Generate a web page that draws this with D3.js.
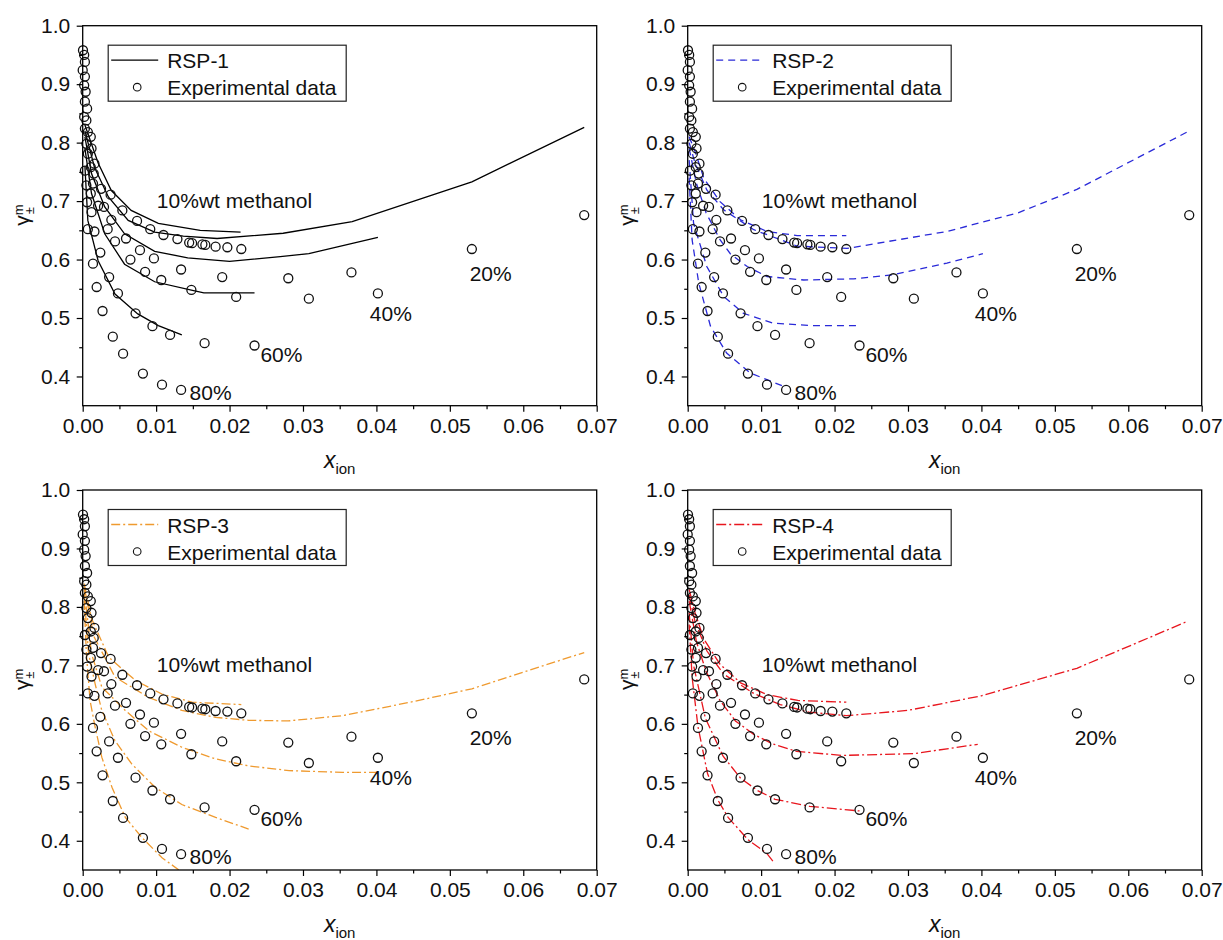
<!DOCTYPE html>
<html>
<head>
<meta charset="utf-8">
<script src="https://cdn.jsdelivr.net/npm/d3@7"></script>
<style>
  body { margin: 0; background: #fff; }
  svg { font-family: "Liberation Sans", Arial, sans-serif; }
</style>
</head>
<body>
<svg width="1223" height="940"></svg>
<script>
// ticks
const xTicks = [0, 0.01, 0.02, 0.03, 0.04, 0.05, 0.06, 0.07];
const xMinor = [0.005, 0.015, 0.025, 0.035, 0.045, 0.055, 0.065];
const yTicks = [0.4, 0.5, 0.6, 0.7, 0.8, 0.9, 1.0];
const yMinor = [0.45, 0.55, 0.65, 0.75, 0.85, 0.95];

// experimental data (x_ion, gamma) - same in all panels
const exp10 = [[0.00004,0.958],[0.0003,0.913],[0.0006,0.858],[0.0011,0.810],[0.0016,0.764],[0.0025,0.721],[0.0038,0.711],[0.0054,0.684],[0.0074,0.666],[0.0092,0.652],[0.0110,0.642],[0.0129,0.635],[0.0145,0.629],[0.0149,0.628],[0.0163,0.626],[0.0167,0.625],[0.0181,0.622],[0.0197,0.621],[0.0216,0.618]];
const exp20 = [[0.0002,0.950],[0.0004,0.887],[0.0007,0.818],[0.0012,0.790],[0.0015,0.747],[0.0029,0.690],[0.0039,0.668],[0.0059,0.636],[0.0078,0.616],[0.0097,0.602],[0.0134,0.583],[0.0190,0.570],[0.0280,0.568],[0.0366,0.578],[0.0530,0.618],[0.0683,0.676]];
const exp40 = [[0.0003,0.938],[0.0003,0.870],[0.0005,0.838],[0.0007,0.781],[0.0011,0.758],[0.0014,0.730],[0.0021,0.692],[0.0034,0.652],[0.0044,0.631],[0.0065,0.600],[0.0085,0.579],[0.0107,0.565],[0.0148,0.548],[0.0209,0.536],[0.0308,0.533],[0.0402,0.542]];
const exp60 = [[0.0000,0.924],[0.0002,0.898],[0.0002,0.844],[0.0005,0.798],[0.0011,0.713],[0.0012,0.681],[0.0016,0.648],[0.0024,0.612],[0.0036,0.570],[0.0048,0.542],[0.0072,0.508],[0.0095,0.486],[0.0119,0.471],[0.0166,0.457],[0.0234,0.453]];
const exp80 = [[0.0003,0.824],[0.0003,0.752],[0.0005,0.727],[0.0006,0.698],[0.0007,0.652],[0.0014,0.593],[0.0019,0.553],[0.0027,0.512],[0.0041,0.468],[0.0055,0.439],[0.0082,0.405],[0.0108,0.386],[0.0134,0.377]];

// RSP-1 model
const rsp1_10 = [[0.0003,0.83],[0.0021,0.765],[0.0039,0.718],[0.0066,0.684],[0.0103,0.662],[0.016,0.650],[0.0215,0.647]];
const rsp1_20 = [[0.0003,0.82],[0.0016,0.758],[0.0035,0.707],[0.0062,0.667],[0.0098,0.647],[0.0137,0.640],[0.0183,0.636],[0.0273,0.645],[0.0367,0.665],[0.0530,0.733],[0.0683,0.826]];
const rsp1_40 = [[0.0003,0.81],[0.0012,0.747],[0.003,0.690],[0.0057,0.644],[0.0098,0.614],[0.0143,0.603],[0.020,0.597],[0.0269,0.605],[0.0308,0.610],[0.0402,0.638]];
const rsp1_60 = [[0.0003,0.79],[0.0012,0.713],[0.003,0.644],[0.0057,0.592],[0.0098,0.562],[0.0151,0.547],[0.0165,0.543],[0.0234,0.543]];
const rsp1_80 = [[0.0003,0.76],[0.0007,0.667],[0.0021,0.598],[0.0044,0.541],[0.0075,0.507],[0.0103,0.487],[0.0135,0.471]];

// RSP-2 model
const rsp2_10 = [[0.0002,0.81],[0.001,0.785],[0.0022,0.739],[0.0044,0.699],[0.0072,0.668],[0.0108,0.648],[0.0149,0.641],[0.0216,0.641]];
const rsp2_20 = [[0.0002,0.80],[0.001,0.765],[0.0026,0.719],[0.0049,0.685],[0.009,0.651],[0.0126,0.634],[0.0149,0.623],[0.0217,0.619],[0.0353,0.648],[0.045,0.680],[0.053,0.720],[0.0683,0.820]];
const rsp2_40 = [[0.0002,0.79],[0.0012,0.73],[0.0025,0.68],[0.0044,0.634],[0.0058,0.61],[0.0081,0.588],[0.0108,0.571],[0.0158,0.565],[0.0226,0.567],[0.028,0.574],[0.0353,0.594],[0.0402,0.61]];
const rsp2_60 = [[0.0002,0.77],[0.0008,0.662],[0.0026,0.588],[0.0049,0.537],[0.0076,0.508],[0.0117,0.491],[0.0171,0.487],[0.0233,0.487]];
const rsp2_80 = [[0.0002,0.74],[0.0006,0.634],[0.0015,0.560],[0.0031,0.486],[0.0053,0.440],[0.0085,0.406],[0.0133,0.382]];

// RSP-3 model
const rsp3_10 = [[0.0002,0.84],[0.0012,0.78],[0.00355,0.714],[0.0072,0.674],[0.0108,0.651],[0.0149,0.637],[0.0216,0.633]];
const rsp3_20 = [[0.0002,0.835],[0.0015,0.75],[0.0044,0.68],[0.009,0.645],[0.0135,0.623],[0.0181,0.611],[0.0226,0.606],[0.028,0.605],[0.0354,0.614],[0.045,0.638],[0.053,0.66],[0.0683,0.722]];
const rsp3_40 = [[0.0002,0.83],[0.0012,0.72],[0.0026,0.663],[0.0058,0.623],[0.009,0.588],[0.0135,0.560],[0.0181,0.540],[0.0226,0.528],[0.0281,0.520],[0.0354,0.517],[0.040,0.517]];
const rsp3_60 = [[0.0002,0.82],[0.0008,0.72],[0.0017,0.668],[0.0026,0.623],[0.0044,0.571],[0.0067,0.531],[0.0099,0.491],[0.0135,0.462],[0.0181,0.440],[0.0226,0.420]];
const rsp3_80 = [[0.0002,0.81],[0.0005,0.72],[0.001,0.640],[0.0017,0.594],[0.0026,0.543],[0.004,0.491],[0.0058,0.440],[0.0081,0.405],[0.0108,0.371],[0.0131,0.350]];

// RSP-4 model
const rsp4_10 = [[0.0002,0.83],[0.001,0.79],[0.0022,0.745],[0.0044,0.702],[0.0072,0.67],[0.0108,0.65],[0.015,0.64],[0.0216,0.637]];
const rsp4_20 = [[0.0002,0.82],[0.001,0.775],[0.0026,0.725],[0.0049,0.685],[0.009,0.652],[0.0126,0.633],[0.0165,0.62],[0.0216,0.614],[0.03,0.623],[0.04,0.648],[0.053,0.695],[0.068,0.775]];
const rsp4_40 = [[0.0002,0.81],[0.0012,0.74],[0.0025,0.69],[0.0044,0.64],[0.0065,0.605],[0.009,0.582],[0.0115,0.566],[0.0148,0.553],[0.021,0.546],[0.0308,0.549],[0.0395,0.565]];
const rsp4_60 = [[0.0002,0.79],[0.0008,0.70],[0.0024,0.61],[0.0048,0.545],[0.0072,0.507],[0.0095,0.486],[0.0119,0.471],[0.0166,0.459],[0.0234,0.451]];
const rsp4_80 = [[0.0002,0.77],[0.0006,0.68],[0.0014,0.595],[0.0027,0.515],[0.0041,0.47],[0.0055,0.44],[0.0082,0.402],[0.0108,0.378],[0.0118,0.362]];

// annotation labels
const pctLabels = ["20%", "40%", "60%", "80%"];
const pctX = [0.0527, 0.0391, 0.0242, 0.01455];
const pctY = [0.563, 0.495, 0.4255, 0.3595];

const svg = d3.select("svg");
const W = 514, H = 380;

const panels = [
  { name: "RSP-1", left: 82.7, top: 25.7, color: "#000", dash: null, curves: [rsp1_10, rsp1_20, rsp1_40, rsp1_60, rsp1_80] },
  { name: "RSP-2", left: 687.7, top: 25.7, color: "#2a2ad8", dash: "7,5", curves: [rsp2_10, rsp2_20, rsp2_40, rsp2_60, rsp2_80] },
  { name: "RSP-3", left: 82.7, top: 490, color: "#ef9a2f", dash: "9,3,2,3", curves: [rsp3_10, rsp3_20, rsp3_40, rsp3_60, rsp3_80] },
  { name: "RSP-4", left: 687.7, top: 490, color: "#e8161e", dash: "10,3,2,3", curves: [rsp4_10, rsp4_20, rsp4_40, rsp4_60, rsp4_80] }
];
const expAll = [exp10, exp20, exp40, exp60, exp80];

panels.forEach((p, i) => {
  const g = svg.append("g").attr("transform", `translate(${p.left},${p.top})`);
  const x = d3.scaleLinear().domain([0, 0.07]).range([0, W]);
  const y = d3.scaleLinear().domain([0.35, 1.0]).range([H, 0]);

  g.append("clipPath").attr("id", "clip" + i)
    .append("rect").attr("width", W).attr("height", H);

  // model curves
  const line = d3.line().x(d => x(d[0])).y(d => y(d[1]));
  g.append("g").attr("clip-path", `url(#clip${i})`)
    .selectAll("path").data(p.curves).enter().append("path")
    .attr("d", line)
    .attr("fill", "none")
    .attr("stroke", p.color)
    .attr("stroke-width", 1.3)
    .attr("stroke-dasharray", p.dash);

  // experimental points
  g.append("g").selectAll("circle")
    .data(expAll.flat()).enter().append("circle")
    .attr("cx", d => x(d[0]))
    .attr("cy", d => y(d[1]))
    .attr("r", 4.5)
    .attr("fill", "none")
    .attr("stroke", "#111")
    .attr("stroke-width", 1.3);

  // axes
  const xAxis = g.append("g").attr("transform", `translate(0,${H})`)
    .call(d3.axisBottom(x).tickValues(xTicks).tickFormat(d3.format(".2f")).tickSize(6).tickSizeOuter(0));
  g.append("g").attr("transform", `translate(0,${H})`)
    .call(d3.axisBottom(x).tickValues(xMinor).tickFormat("").tickSize(3.5).tickSizeOuter(0));
  const yAxis = g.append("g")
    .call(d3.axisLeft(y).tickValues(yTicks).tickFormat(d3.format(".1f")).tickSize(6).tickSizeOuter(0));
  g.append("g")
    .call(d3.axisLeft(y).tickValues(yMinor).tickFormat("").tickSize(3.5).tickSizeOuter(0));
  g.selectAll(".domain").remove();
  g.selectAll(".tick line").attr("stroke", "#000").attr("stroke-width", 1.2);
  xAxis.selectAll("text").attr("font-size", 21).attr("fill", "#111").attr("dy", "0.71em").attr("y", 12);
  yAxis.selectAll("text").attr("font-size", 21).attr("fill", "#111").attr("x", -12.5);

  // frame
  g.append("rect").attr("width", W).attr("height", H)
    .attr("fill", "none").attr("stroke", "#000").attr("stroke-width", 1.3);

  // legend
  const lg = g.append("g").attr("transform", "translate(25.5,19.5)");
  lg.append("rect").attr("width", 238).attr("height", 56)
    .attr("fill", "#fff").attr("stroke", "#222").attr("stroke-width", 1.2);
  lg.append("line").attr("x1", 3).attr("x2", 50).attr("y1", 15).attr("y2", 15)
    .attr("stroke", p.color).attr("stroke-width", 1.3).attr("stroke-dasharray", p.dash);
  lg.append("text").attr("x", 59).attr("y", 23).attr("font-size", 21).attr("fill", "#111").text(p.name);
  lg.append("circle").attr("cx", 29).attr("cy", 42).attr("r", 3.8)
    .attr("fill", "none").attr("stroke", "#111").attr("stroke-width", 1.1);
  lg.append("text").attr("x", 59).attr("y", 50).attr("font-size", 21).attr("fill", "#111").text("Experimental data");

  // annotations
  g.append("text").attr("x", x(0.0101)).attr("y", y(0.688))
    .attr("font-size", 21).attr("fill", "#111").text("10%wt methanol");
  g.selectAll(".pct").data(pctLabels).enter().append("text")
    .attr("x", (d, k) => x(pctX[k])).attr("y", (d, k) => y(pctY[k]))
    .attr("font-size", 21).attr("fill", "#111").text(d => d);

  // x title
  const xt = g.append("text").attr("x", W / 2).attr("y", H + 62)
    .attr("text-anchor", "middle").attr("fill", "#111");
  xt.append("tspan").attr("font-size", 23).attr("font-style", "italic").text("x");
  xt.append("tspan").attr("font-size", 15).attr("dy", 6).text("ion");

  // y title
  const yt = g.append("text")
    .attr("transform", `translate(${-54},${H / 2 + 10}) rotate(-90)`)
    .attr("fill", "#111");
  yt.append("tspan").attr("font-size", 21).text("γ");
  yt.append("tspan").attr("font-size", 13).attr("dy", -6).text("m");
  yt.append("tspan").attr("font-size", 13).attr("dx", -10).attr("dy", 11).text("±");
});
</script>
</body>
</html>
